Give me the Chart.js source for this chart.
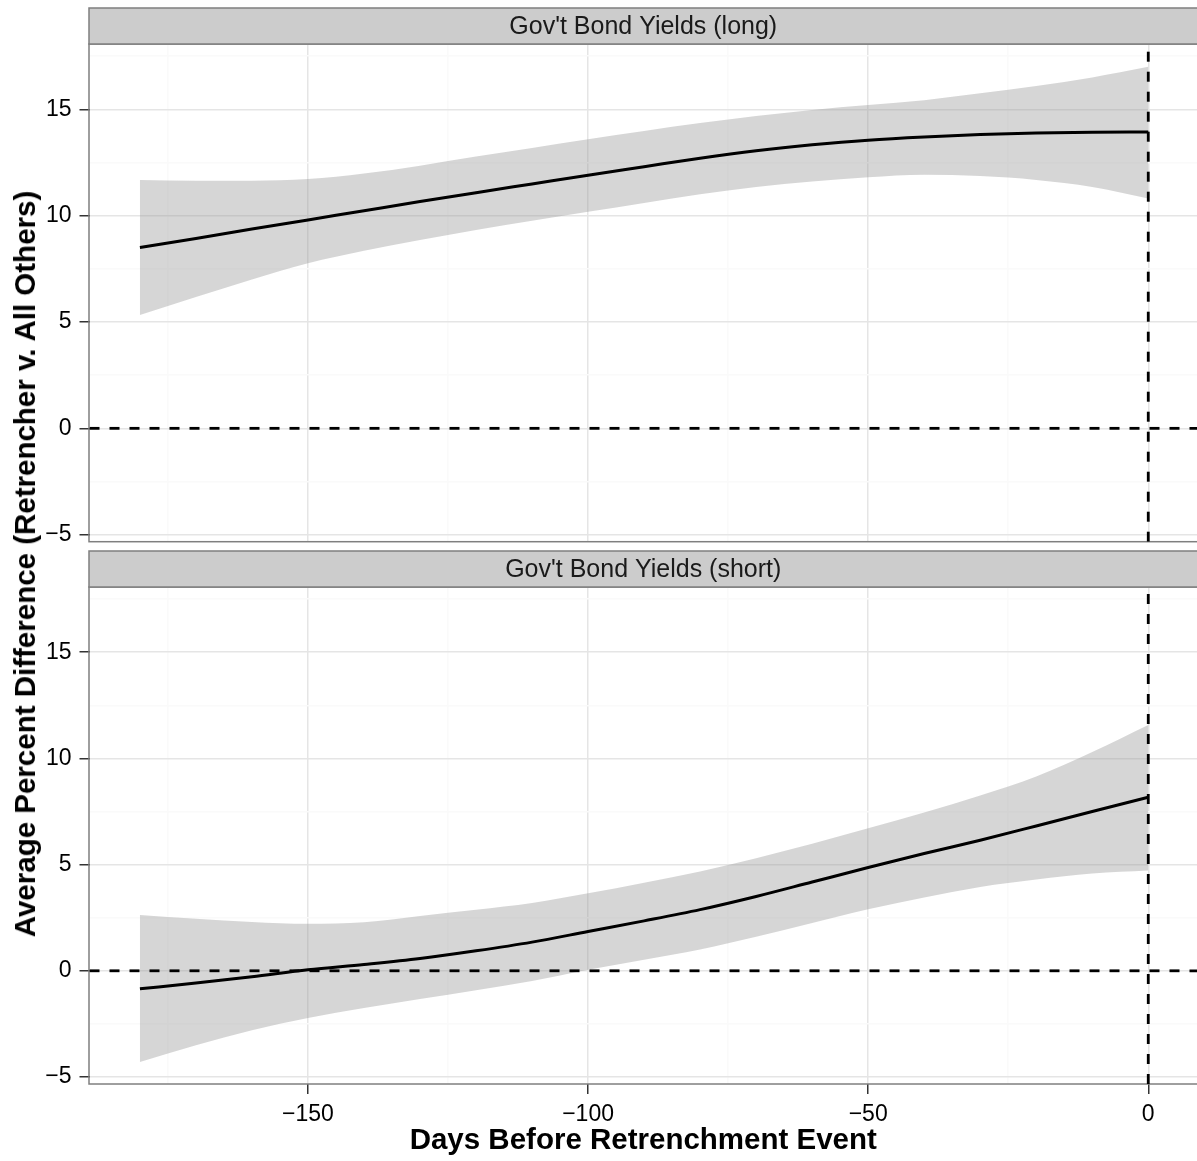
<!DOCTYPE html>
<html>
<head>
<meta charset="utf-8">
<script src="https://cdn.jsdelivr.net/npm/chart.js@4.4.1/dist/chart.umd.min.js"></script>
<style>
  html, body { margin: 0; padding: 0; background: #ffffff; }
  #wrap { position: relative; width: 1197px; height: 1161px; overflow: hidden; background: #ffffff; }
  canvas { position: absolute; left: 0; }
  #c1 { top: 0; }
  #c2 { top: 548px; }
  #ytitle {
    position: absolute; left: 25px; top: 564px;
    transform: translate(-50%, -50%) rotate(-90deg);
    white-space: nowrap;
    font: bold 29.5px "Liberation Sans", Arial, sans-serif; color: #000;
  }
</style>
</head>
<body>
<div id="wrap">
  <canvas id="c1" width="1197" height="580"></canvas>
  <canvas id="c2" width="1197" height="613"></canvas>
  <div id="ytitle">Average Percent Difference (Retrencher v. All Others)</div>
</div>
<script>
// Days before the event at which the smoothed estimates are evaluated
const days = [-180, -170, -160, -150, -140, -130, -120, -110, -100, -90, -80, -70, -60, -50, -40, -30, -20, -10, 0];

// Long-term government bond yields: fitted difference and confidence band
const fitLong   = [8.50, 8.93, 9.37, 9.80, 10.23, 10.66, 11.08, 11.49, 11.90, 12.30, 12.70, 13.05, 13.33, 13.55, 13.70, 13.81, 13.88, 13.92, 13.93];
const upperLong = [11.67, 11.64, 11.64, 11.72, 11.98, 12.35, 12.78, 13.18, 13.59, 13.98, 14.35, 14.68, 14.97, 15.20, 15.43, 15.75, 16.10, 16.50, 17.00];
const lowerLong = [5.33, 6.17, 7.00, 7.76, 8.35, 8.85, 9.33, 9.76, 10.18, 10.60, 11.00, 11.35, 11.60, 11.80, 11.92, 11.86, 11.68, 11.35, 10.81];

// Short-term government bond yields: fitted difference and confidence band
const fitShort   = [-0.85, -0.58, -0.28, 0.05, 0.30, 0.58, 0.94, 1.35, 1.85, 2.35, 2.88, 3.50, 4.18, 4.86, 5.52, 6.15, 6.82, 7.50, 8.17];
const upperShort = [2.63, 2.45, 2.30, 2.21, 2.28, 2.58, 2.87, 3.19, 3.65, 4.15, 4.68, 5.30, 5.98, 6.71, 7.45, 8.25, 9.15, 10.30, 11.57];
const lowerShort = [-4.29, -3.50, -2.80, -2.22, -1.75, -1.33, -0.92, -0.48, 0.05, 0.52, 1.00, 1.60, 2.25, 2.90, 3.45, 3.95, 4.30, 4.58, 4.72];

// Axis ticks (major ticks carry labels, minor ones only a faint grid line)
const xTicks = [-175, -150, -125, -100, -75, -50, -25, 0];
const xMajor = [-150, -100, -50, 0];
const yTicks = [-5, -2.5, 0, 2.5, 5, 7.5, 10, 12.5, 15, 17.5];
const yMajor = [-5, 0, 5, 10, 15];

const panelTitles = ["Gov't Bond Yields (long)", "Gov't Bond Yields (short)"];
const xTitle = 'Days Before Retrenchment Event';

const xRange = [-189, 8.7];
const yRange = [-5.33, 18.07];

Chart.defaults.font.family = '"Liberation Sans", Arial, sans-serif';
Chart.defaults.color = '#000';

const fmt = v => (v < 0 ? '\u2212' + Math.abs(v) : String(v));
const isMajor = (arr, v) => arr.some(m => Math.abs(m - v) < 1e-9);

const ribbonFill = 'rgba(153,153,153,0.4)';

function pts(ys) { return days.map((d, i) => ({ x: d, y: ys[i] })); }

// Lower "order" values are painted last (on top): reference lines > fit > band
function datasets(fit, upper, lower) {
  return [
    { order: 4, data: pts(lower), borderWidth: 0, borderColor: 'rgba(0,0,0,0)', pointRadius: 0, fill: false, cubicInterpolationMode: 'monotone' },
    { order: 3, data: pts(upper), borderWidth: 0, borderColor: 'rgba(0,0,0,0)', pointRadius: 0, fill: '-1', backgroundColor: ribbonFill, cubicInterpolationMode: 'monotone' },
    { order: 2, data: pts(fit), borderWidth: 3, borderColor: '#000000', pointRadius: 0, fill: false, cubicInterpolationMode: 'monotone', borderCapStyle: 'butt' },
    { order: 1, data: [{ x: xRange[0], y: 0 }, { x: xRange[1], y: 0 }], borderWidth: 2.8, borderColor: '#000000', borderDash: [10, 10], pointRadius: 0, fill: false, tension: 0 },
    { order: 0, data: [{ x: 0, y: yRange[0] }, { x: 0, y: yRange[1] }], borderWidth: 2.8, borderColor: '#000000', borderDash: [10, 10], pointRadius: 0, fill: false, tension: 0, clip: 0 }
  ];
}

// Facet strip above the panel and the grey panel border
const facetPlugin = {
  id: 'facet',
  beforeDatasetsDraw(chart) {
    const { ctx, chartArea: a } = chart;
    ctx.save();
    ctx.strokeStyle = '#7f7f7f';
    ctx.lineWidth = 1.5;
    ctx.strokeRect(a.left - 0.5, a.top, a.right - a.left + 2, a.bottom - a.top);
    ctx.restore();
  },
  afterDraw(chart, args, opts) {
    const { ctx, chartArea: a } = chart;
    const h = 36;
    ctx.save();
    ctx.fillStyle = '#cccccc';
    ctx.fillRect(a.left - 0.5, a.top - h, a.right - a.left + 2, h);
    ctx.strokeStyle = '#7f7f7f';
    ctx.lineWidth = 1.5;
    ctx.strokeRect(a.left - 0.5, a.top - h, a.right - a.left + 2, h);
    ctx.fillStyle = '#1a1a1a';
    ctx.font = '25px "Liberation Sans", Arial, sans-serif';
    ctx.textAlign = 'center';
    ctx.textBaseline = 'middle';
    ctx.fillText(opts.text, (a.left + a.right) / 2, a.top - h / 2 + 1);
    ctx.restore();
  }
};

function makeChart(id, title, fit, upper, lower, bottomPanel) {
  const padTop = bottomPanel ? 39 : 44;
  const padBottom = bottomPanel ? 0 : 580 - 541.7;
  return new Chart(document.getElementById(id), {
    type: 'line',
    data: { datasets: datasets(fit, upper, lower) },
    plugins: [facetPlugin],
    options: {
      responsive: false,
      animation: false,
      devicePixelRatio: 1,
      layout: { padding: { top: padTop, bottom: padBottom, left: 0, right: 0 } },
      plugins: {
        legend: { display: false },
        tooltip: { enabled: false },
        facet: { text: title }
      },
      scales: {
        x: {
          type: 'linear',
          min: xRange[0],
          max: xRange[1],
          afterBuildTicks: s => { s.ticks = xTicks.map(v => ({ value: v })); },
          afterFit: s => { s.height = bottomPanel ? 77 : 0; },
          border: { display: false },
          grid: {
            color: c => isMajor(xMajor, c.tick.value) ? '#e5e5e5' : '#fafafa',
            lineWidth: 1.5,
            drawTicks: bottomPanel,
            tickLength: 10,
            tickWidth: 1.5,
            tickColor: c => isMajor(xMajor, c.tick.value) ? '#333333' : 'rgba(0,0,0,0)'
          },
          ticks: {
            display: bottomPanel,
            autoSkip: false,
            maxRotation: 0,
            padding: 7,
            font: { size: 23 },
            color: '#000',
            callback: v => isMajor(xMajor, v) ? fmt(v) : ''
          },
          title: {
            display: bottomPanel,
            text: xTitle,
            font: { size: 29.5, weight: 'bold' },
            color: '#000',
            padding: { top: 0, bottom: 2 }
          }
        },
        y: {
          type: 'linear',
          min: yRange[0],
          max: yRange[1],
          afterBuildTicks: s => { s.ticks = yTicks.map(v => ({ value: v })); },
          afterFit: s => { s.width = 89.5; },
          border: { display: false },
          grid: {
            color: c => isMajor(yMajor, c.tick.value) ? '#e5e5e5' : '#fafafa',
            lineWidth: 1.5,
            tickLength: 10,
            tickWidth: 1.5,
            tickColor: c => isMajor(yMajor, c.tick.value) ? '#333333' : 'rgba(0,0,0,0)'
          },
          ticks: {
            autoSkip: false,
            padding: 8,
            font: { size: 23 },
            color: '#000',
            callback: v => isMajor(yMajor, v) ? fmt(v) : ''
          }
        }
      }
    }
  });
}

makeChart('c1', panelTitles[0], fitLong, upperLong, lowerLong, false);
makeChart('c2', panelTitles[1], fitShort, upperShort, lowerShort, true);
</script>
</body>
</html>
